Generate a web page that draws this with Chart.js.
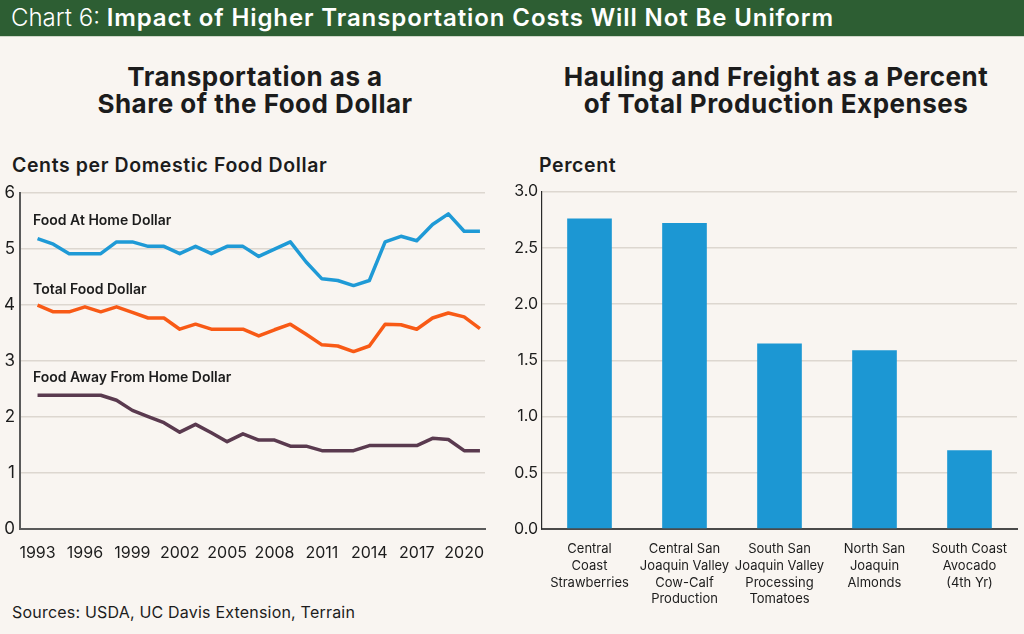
<!DOCTYPE html>
<html>
<head>
<meta charset="utf-8">
<script src="https://cdn.jsdelivr.net/npm/chart.js@4"></script>
<style>
  html, body { margin: 0; padding: 0; }
  body { width: 1024px; height: 634px; background: #f9f5f1; font-family: Inter, "DejaVu Sans", sans-serif; color: #1c1c1c; position: relative; overflow: hidden; }
  .header { position: absolute; left: 0; top: 0; width: 1024px; height: 36px; background: #2d5e33; color: #fff; font-size: 24px; line-height: 36px; border-bottom: 1px solid #cfd6c8; }
  .header span.lead { font-weight: 300; padding-left: 11px; }
  .header span.main { font-weight: 600; letter-spacing: 0.9px; }
  .txt { position: absolute; white-space: nowrap; }
  .title { font-size: 26px; font-weight: 700; line-height: 27px; text-align: center; width: 500px; letter-spacing: 0.5px; }
  .axis-title { font-size: 19.5px; font-weight: 600; line-height: 22px; letter-spacing: 0.6px; }
  .series { font-size: 14px; font-weight: 600; line-height: 16px; }
  .src { font-size: 16px; line-height: 18px; letter-spacing: 0.2px; }
  canvas { position: absolute; }
</style>
</head>
<body>
<div class="header"><span class="lead">Chart 6: </span><span class="main">Impact of Higher Transportation Costs Will Not Be Uniform</span></div>

<div class="txt title" style="left:5px; top:63px;">Transportation as a<br>Share of the Food Dollar</div>
<div class="txt title" style="left:526px; top:63px;">Hauling and Freight as a Percent<br>of Total Production Expenses</div>

<div class="txt axis-title" style="left:12px; top:154px;">Cents per Domestic Food Dollar</div>
<div class="txt axis-title" style="left:539px; top:154px;">Percent</div>

<canvas id="lineChart" width="495" height="390" style="left:0; top:178px;"></canvas>
<canvas id="barChart" width="514" height="440" style="left:510px; top:178px;"></canvas>

<div class="txt series" style="left:33px; top:212px;">Food At Home Dollar</div>
<div class="txt series" style="left:33px; top:281px;">Total Food Dollar</div>
<div class="txt series" style="left:33px; top:369px;">Food Away From Home Dollar</div>

<div class="txt src" style="left:12px; top:603px;">Sources: USDA, UC Davis Extension, Terrain</div>

<script>
// left panel: cents per domestic food dollar
const years = [1993, 1994, 1995, 1996, 1997, 1998, 1999, 2000, 2001, 2002,
               2003, 2004, 2005, 2006, 2007, 2008, 2009, 2010, 2011, 2012,
               2013, 2014, 2015, 2016, 2017, 2018, 2019, 2020, 2021];
const foodAtHome = [5.19, 5.09, 4.92, 4.92, 4.92, 5.13, 5.13, 5.05, 5.05, 4.92,
                    5.05, 4.92, 5.05, 5.05, 4.87, 5.00, 5.13, 4.77, 4.47, 4.44,
                    4.35, 4.44, 5.13, 5.23, 5.15, 5.44, 5.63, 5.32, 5.32];
const totalFood = [4.00, 3.88, 3.88, 3.97, 3.88, 3.97, 3.87, 3.77, 3.77, 3.57,
                   3.66, 3.57, 3.57, 3.57, 3.45, 3.56, 3.66, 3.48, 3.29, 3.27,
                   3.17, 3.27, 3.66, 3.65, 3.57, 3.77, 3.86, 3.79, 3.58];
const foodAwayFromHome = [2.39, 2.39, 2.39, 2.39, 2.39, 2.30, 2.12, 2.01, 1.90, 1.73,
                          1.87, 1.72, 1.56, 1.70, 1.59, 1.59, 1.48, 1.48, 1.40, 1.40,
                          1.40, 1.49, 1.49, 1.49, 1.49, 1.62, 1.60, 1.40, 1.40];
const yearTicks = [1993, 1996, 1999, 2002, 2005, 2008, 2011, 2014, 2017, 2020];

// right panel: hauling and freight share of production expenses
const crops = [
  ['Central', 'Coast', 'Strawberries'],
  ['Central San', 'Joaquin Valley', 'Cow-Calf', 'Production'],
  ['South San', 'Joaquin Valley', 'Processing', 'Tomatoes'],
  ['North San', 'Joaquin', 'Almonds'],
  ['South Coast', 'Avocado', '(4th Yr)']
];
const freightPct = [2.76, 2.72, 1.65, 1.59, 0.70];

Chart.defaults.font.family = 'Inter, "DejaVu Sans", sans-serif';
Chart.defaults.color = '#1c1c1c';
Chart.defaults.animation = false;

const GRID = '#ddd7d0';

function pairs(vals){ return years.map((y, i) => ({ x: y, y: vals[i] })); }
function lineSet(vals, color){
  return { data: pairs(vals), borderColor: color, borderWidth: 3.5, pointRadius: 0, tension: 0, borderJoinStyle: 'round' };
}

new Chart(document.getElementById('lineChart'), {
  type: 'line',
  data: {
    datasets: [
      lineSet(foodAtHome, '#1f9ad6'),
      lineSet(totalFood, '#f85a16'),
      lineSet(foodAwayFromHome, '#5a3a4f')
    ]
  },
  options: {
    responsive: false,
    layout: { padding: { top: 8, right: 10 } },
    plugins: { legend: { display: false }, tooltip: { enabled: false } },
    scales: {
      x: {
        type: 'linear', min: 1991.89, max: 2021.32,
        afterBuildTicks: s => { s.ticks = yearTicks.map(v => ({ value: v })); },
        afterFit: s => { s.height = 39; },
        grid: { display: false },
        border: { color: '#5a5a5a', width: 2 },
        ticks: { font: { size: 16 }, padding: 7, maxRotation: 0, autoSkip: false, callback: v => String(v) }
      },
      y: {
        min: 0, max: 6,
        afterFit: s => { s.width = 20; },
        grid: { color: GRID, lineWidth: 1.5, drawTicks: false },
        border: { color: '#5a5a5a', width: 2 },
        ticks: { stepSize: 1, font: { size: 17 }, padding: 5 }
      }
    }
  }
});

new Chart(document.getElementById('barChart'), {
  type: 'bar',
  data: {
    labels: crops,
    datasets: [{ data: freightPct, backgroundColor: '#1c97d3', barPercentage: 0.47, categoryPercentage: 1 }]
  },
  options: {
    responsive: false,
    layout: { padding: { top: 8, right: 7 } },
    plugins: { legend: { display: false }, tooltip: { enabled: false } },
    scales: {
      x: {
        afterFit: s => { s.height = 89; },
        grid: { display: false },
        border: { color: '#4a4a4a', width: 2 },
        ticks: { font: { size: 13, lineHeight: 1.28 }, padding: 4, maxRotation: 0, autoSkip: false }
      },
      y: {
        min: 0, max: 3,
        afterFit: s => { s.width = 32; },
        grid: { color: GRID, lineWidth: 1.5, drawTicks: false },
        border: { color: '#2a2a2a', width: 1.2 },
        ticks: { stepSize: 0.5, font: { size: 16 }, padding: 4, callback: v => v.toFixed(1) }
      }
    }
  }
});
</script>
</body>
</html>
